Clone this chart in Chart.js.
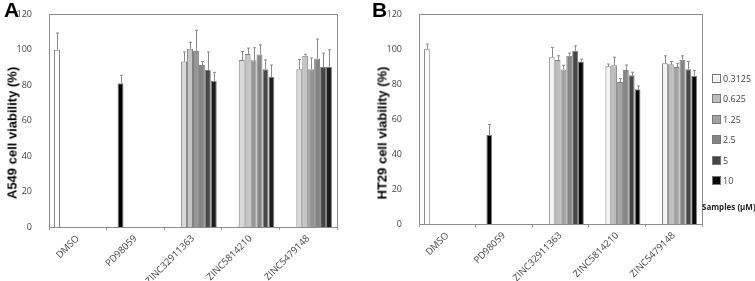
<!DOCTYPE html>
<html lang="en">
<head>
    <meta charset="UTF-8">
    <title>Cell viability</title>
    <script src="https://cdn.jsdelivr.net/npm/chart.js"></script>
    <style>
        body {
            margin: 0;
            background: #fff;
            font-family: "Open Sans", Arial, sans-serif;
        }
        .wrap {
            position: relative;
            width: 755px;
            height: 281px;
            overflow: hidden;
        }
        .panel {
            position: absolute;
            top: 0;
            height: 281px;
        }
        .tag {
            position: absolute;
            top: -2px;
            font: bold 21px "Liberation Sans", Arial, sans-serif;
        }
        .ytitle {
            position: absolute;
            font: bold 13px "Liberation Sans", Arial, sans-serif;
            white-space: nowrap;
            transform: translate(-50%, -50%) rotate(-90deg);
        }
        #legend {
            position: absolute;
            left: 712px;
            top: 72px;
            font-size: 9px;
            color: #444;
        }
        #legend div {
            height: 20.4px;
            line-height: 14px;
        }
        #legend span.box {
            display: inline-block;
            width: 7px;
            height: 7px;
            border: 1px solid #777;
            margin-right: 2px;
            vertical-align: -1px;
        }
        #samples {
            position: absolute;
            left: 702px;
            top: 201px;
            white-space: nowrap;
            font: bold 8px "Open Sans", Arial, sans-serif;
            color: #222;
        }
    </style>
</head>
<body>
<div class="wrap">
    <div class="panel" style="left:0;width:370px"><canvas id="chartA"></canvas></div>
    <div class="panel" style="left:370px;width:385px"><canvas id="chartB"></canvas></div>
    <div class="tag" style="left:4px">A</div>
    <div class="tag" style="left:372px">B</div>
    <div class="ytitle" style="left:12px;top:133px">A549 cell viability (%)</div>
    <div class="ytitle" style="left:382px;top:133px">HT29 cell viability (%)</div>
    <div id="legend"></div>
    <div id="samples">Samples (μM)</div>
</div>
<script>
    // categories and series
    const categories = ['DMSO', 'PD98059', 'ZINC32911363', 'ZINC5814210', 'ZINC5479148'];
    const concentrations = ['0.3125', '0.625', '1.25', '2.5', '5', '10'];

    // A549 (panel A)
    const a549Dmso = [100, null, null, null, null];
    const a549DmsoErr = [9.5, null, null, null, null];
    const a549Pd = [null, 81.2, null, null, null];
    const a549PdErr = [null, 4.4, null, null, null];
    const a549Values = [
        [null, null, 93.4, 94.3, 89.0],
        [null, null, 100.6, 97.7, 96.7],
        [null, null, 99.3, 94.1, 89.0],
        [null, null, 91.4, 97.3, 95.1],
        [null, null, 88.6, 89.0, 90.3],
        [null, null, 82.5, 84.6, 90.5]
    ];
    const a549Err = [
        [null, null, 5.4, 4.8, 5.5],
        [null, null, 3.7, 3.3, 0.8],
        [null, null, 11.7, 7.1, 6.4],
        [null, null, 2.0, 5.5, 11.0],
        [null, null, 10.2, 5.3, 7.9],
        [null, null, 4.8, 6.8, 9.5]
    ];

    // HT29 (panel B)
    const ht29Dmso = [100, null, null, null, null];
    const ht29DmsoErr = [3.0, null, null, null, null];
    const ht29Pd = [null, 50.9, null, null, null];
    const ht29PdErr = [null, 6.1, null, null, null];
    const ht29Values = [
        [null, null, 95.4, 90.3, 92.0],
        [null, null, 93.9, 90.9, 91.4],
        [null, null, 88.5, 81.3, 89.9],
        [null, null, 96.3, 88.2, 94.1],
        [null, null, 99.2, 85.1, 88.6],
        [null, null, 93.0, 77.2, 84.8]
    ];
    const ht29Err = [
        [null, null, 5.6, 1.3, 4.3],
        [null, null, 2.4, 4.6, 1.6],
        [null, null, 2.4, 1.9, 2.1],
        [null, null, 1.5, 2.8, 2.2],
        [null, null, 2.8, 1.8, 4.4],
        [null, null, 1.4, 1.8, 3.1]
    ];

    const yTicks = [0, 20, 40, 60, 80, 100, 120];

    const colorsA = ['#d9d9d9', '#c4c4c4', '#969696', '#858585', '#474747', '#1c1c1c'];
    const colorsB = ['#f4f4f4', '#bdbdbd', '#a3a3a3', '#858585', '#454545', '#080808'];

    // draw one-sided error bars on top of each bar
    const errorBars = {
        id: 'errorBars',
        afterDatasetsDraw(chart) {
            const ctx = chart.ctx;
            const y = chart.scales.y;
            ctx.save();
            ctx.strokeStyle = '#8a8a8a';
            ctx.lineWidth = 1;
            chart.data.datasets.forEach((ds, di) => {
                const meta = chart.getDatasetMeta(di);
                ds.data.forEach((v, i) => {
                    if (v == null || !ds.err || ds.err[i] == null) return;
                    const bar = meta.data[i];
                    const x = Math.round(bar.x) + 0.5;
                    const yTop = y.getPixelForValue(v);
                    const yErr = y.getPixelForValue(v + ds.err[i]);
                    ctx.beginPath();
                    ctx.moveTo(x, yTop);
                    ctx.lineTo(x, yErr);
                    ctx.moveTo(x - 1.5, yErr);
                    ctx.lineTo(x + 1.5, yErr);
                    ctx.stroke();
                });
            });
            ctx.restore();
        }
    };

    function makeDatasets(dmso, dmsoErr, pd, pdErr, values, errs, colors) {
        const sets = [
            { label: 'DMSO', data: dmso, err: dmsoErr, backgroundColor: '#ffffff' },
            { label: 'PD98059', data: pd, err: pdErr, backgroundColor: '#000000' }
        ];
        concentrations.forEach((c, k) => {
            sets.push({ label: c, data: values[k], err: errs[k], backgroundColor: colors[k] });
        });
        sets.forEach(s => {
            s.borderColor = '#808080';
            s.borderWidth = 1;
            s.categoryPercentage = 0.825;
            s.barPercentage = 1.0;
            s.skipNull = false;
        });
        return sets;
    }

    function makeChart(id, datasets, rightPad, topPad, xHeight) {
        return new Chart(document.getElementById(id), {
            type: 'bar',
            data: { labels: categories, datasets: datasets },
            options: {
                responsive: true,
                maintainAspectRatio: false,
                animation: false,
                layout: { padding: { top: topPad, right: rightPad, left: 0, bottom: 0 } },
                plugins: {
                    legend: { display: false },
                    tooltip: { enabled: false }
                },
                scales: {
                    x: {
                        grid: { display: true, offset: true, drawOnChartArea: false, tickLength: 3, color: '#999' },
                        border: { color: '#8c8c8c' },
                        ticks: {
                            minRotation: 45,
                            maxRotation: 45,
                            padding: 3,
                            color: '#444',
                            font: { family: 'Open Sans', size: 9.5 }
                        },
                        afterFit(scale) { scale.height = xHeight; }
                    },
                    y: {
                        min: 0,
                        max: 120,
                        afterBuildTicks(scale) { scale.ticks = yTicks.map(v => ({ value: v })); },
                        grid: { display: false },
                        border: { color: '#8c8c8c' },
                        ticks: {
                            padding: 9,
                            color: '#444',
                            font: { family: 'Open Sans', size: 9 }
                        },
                        afterFit(scale) { scale.width = 49; }
                    }
                }
            },
            plugins: [errorBars, {
                id: 'frame',
                afterDraw(chart) {
                    const a = chart.chartArea;
                    const ctx = chart.ctx;
                    ctx.save();
                    ctx.strokeStyle = '#8c8c8c';
                    ctx.lineWidth = 1;
                    ctx.strokeRect(Math.round(a.left) + 0.5, Math.round(a.top) + 0.5,
                        Math.round(a.right - a.left), Math.round(a.bottom - a.top));
                    ctx.restore();
                }
            }]
        });
    }

    makeChart('chartA', makeDatasets(a549Dmso, a549DmsoErr, a549Pd, a549PdErr, a549Values, a549Err, colorsA), 33, 10, 54);
    makeChart('chartB', makeDatasets(ht29Dmso, ht29DmsoErr, ht29Pd, ht29PdErr, ht29Values, ht29Err, colorsB), 53, 11, 57);

    // legend for the concentration series
    const legend = document.getElementById('legend');
    concentrations.forEach((c, k) => {
        const row = document.createElement('div');
        row.innerHTML = '<span class="box" style="background:' + colorsB[k] + '"></span>' + c;
        legend.appendChild(row);
    });
</script>
</body>
</html>
